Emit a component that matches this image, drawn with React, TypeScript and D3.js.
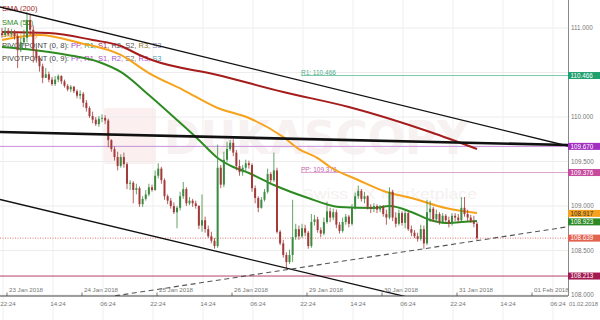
import React from 'react';
import * as d3 from 'd3';

const W = 600;
const H = 320;
const PLOT_R = 568;
const PLOT_B = 296;

// ---- axis data ----
const priceTicks = [111, 110.5, 110, 109.5, 109, 108.5, 108];
const dateTickHours = [0, 24, 48, 72, 96, 120, 144, 168];
const dateTickLabels = ['23 Jan 2018', '24 Jan 2018', '25 Jan 2018', '26 Jan 2018', '29 Jan 2018', '30 Jan 2018', '31 Jan 2018', '01 Feb 2018'];
const hourTickHours = [0, 16, 32, 48, 64, 80, 96, 112, 128, 144, 160, 176];
const hourTickLabels = ['22:24', '14:24', '06:24', '22:24', '14:24', '06:24', '22:24', '14:24', '06:24', '22:24', '14:24', '06:24'];
const lastDateLabel = '01.02.2018';

// ---- candles (hourly, USD/JPY) ----
const FIRST_CANDLE_T = -1.76;
const OPEN0 = 110.94;
const closes = [
  110.92, 110.97, 110.93, 110.96, 110.91, 110.75, 110.84, 110.89, 111.09, 110.98,
  110.75, 110.66, 110.57, 110.44, 110.48, 110.42, 110.37, 110.42, 110.46, 110.40,
  110.35, 110.31, 110.34, 110.29, 110.24, 110.26, 110.16, 110.10, 110.01, 109.97,
  109.92, 109.98, 109.99, 109.96, 109.74, 109.64, 109.55, 109.45, 109.55, 109.47,
  109.25, 109.26, 109.18, 109.20, 109.02, 109.08, 109.13, 109.21, 109.18, 109.34,
  109.42, 109.29, 109.11, 109.06, 109.00, 108.93, 108.98, 109.11, 109.19, 109.03,
  109.06, 109.03, 109.00, 108.78, 108.84, 108.74, 108.66, 108.61, 108.55, 109.43,
  109.24, 109.52, 109.64, 109.71, 109.60, 109.45, 109.38, 109.43, 109.48, 109.46,
  109.20, 109.09, 108.98, 109.07, 109.16, 109.36, 109.29, 109.40, 108.71, 108.58,
  108.45, 108.37, 108.45, 108.65, 108.74, 108.66, 108.75, 108.70, 108.55, 108.82,
  108.85, 108.73, 108.69, 108.82, 108.94, 108.87, 108.93, 108.79, 108.72, 108.82,
  108.88, 108.80, 108.98, 109.11, 109.17, 109.08, 109.11, 108.99, 108.97, 109.00,
  108.96, 108.99, 108.91, 108.87, 109.16, 108.87, 108.80, 108.92, 108.81, 108.92,
  108.74, 108.70, 108.66, 108.63, 108.74, 108.58, 108.93, 108.97, 108.85, 108.91,
  108.82, 108.89, 108.84, 108.80, 108.89, 108.87, 108.84, 108.98, 108.91, 108.87,
  108.83, 108.80, 108.64,
];
const highs = [
  111.00, 111.01, 111.00, 110.99, 110.98, 110.94, 110.89, 110.98, 111.18, 111.16,
  111.03, 110.78, 110.69, 110.60, 110.55, 110.51, 110.45, 110.46, 110.48, 110.47,
  110.42, 110.37, 110.36, 110.35, 110.31, 110.30, 110.28, 110.19, 110.12, 110.06,
  110.00, 110.01, 110.03, 110.02, 109.98, 109.75, 109.67, 109.61, 109.58, 109.60,
  109.49, 109.29, 109.28, 109.25, 109.22, 109.11, 109.18, 109.25, 109.24, 109.40,
  109.48, 109.44, 109.31, 109.13, 109.09, 109.04, 109.00, 109.16, 109.27, 109.21,
  109.10, 109.08, 109.06, 109.01, 109.13, 108.88, 108.78, 108.71, 108.64, 109.69,
  109.46, 109.61, 109.72, 109.74, 109.75, 109.63, 109.52, 109.46, 109.52, 109.51,
  109.48, 109.23, 109.11, 109.10, 109.19, 109.42, 109.38, 109.60, 109.43, 108.73,
  108.62, 108.48, 108.51, 109.07, 108.80, 108.78, 108.80, 108.79, 108.72, 108.91,
  108.90, 108.88, 108.76, 108.87, 109.05, 108.98, 108.97, 108.96, 108.82, 108.87,
  108.91, 108.90, 109.02, 109.15, 109.23, 109.19, 109.16, 109.12, 109.02, 109.03,
  109.02, 109.01, 109.01, 108.96, 109.21, 109.18, 108.93, 108.96, 108.94, 108.96,
  108.94, 108.78, 108.73, 108.70, 108.79, 108.78, 109.07, 109.06, 108.99, 108.96,
  108.93, 108.92, 108.91, 108.88, 108.92, 108.92, 108.91, 109.10, 109.10, 108.96,
  108.90, 108.89, 108.82,
];
const lows = [
  110.89, 110.90, 110.91, 110.90, 110.87, 110.55, 110.73, 110.80, 110.84, 110.92,
  110.61, 110.61, 110.51, 110.38, 110.44, 110.39, 110.35, 110.35, 110.39, 110.37,
  110.33, 110.29, 110.28, 110.27, 110.21, 110.20, 110.11, 110.06, 109.99, 109.93,
  109.90, 109.89, 109.94, 109.92, 109.66, 109.61, 109.51, 109.40, 109.43, 109.43,
  109.19, 109.18, 109.03, 109.13, 108.99, 108.99, 109.06, 109.11, 109.16, 109.17,
  109.31, 109.25, 109.07, 109.02, 108.97, 108.91, 108.75, 108.95, 109.08, 109.00,
  109.01, 108.99, 108.97, 108.74, 108.71, 108.70, 108.64, 108.58, 108.52, 108.53,
  109.20, 109.21, 109.49, 109.62, 109.56, 109.40, 109.34, 109.34, 109.39, 109.42,
  109.16, 109.03, 108.93, 108.97, 109.05, 109.14, 109.26, 109.27, 108.69, 108.56,
  108.42, 108.30, 108.35, 108.37, 108.62, 108.62, 108.64, 108.66, 108.52, 108.53,
  108.78, 108.70, 108.65, 108.67, 108.80, 108.82, 108.84, 108.75, 108.69, 108.70,
  108.79, 108.76, 108.78, 108.96, 109.08, 109.05, 109.03, 108.96, 108.92, 108.93,
  108.92, 108.93, 108.88, 108.79, 108.85, 108.83, 108.76, 108.78, 108.78, 108.75,
  108.72, 108.66, 108.64, 108.60, 108.61, 108.52, 108.56, 108.82, 108.82, 108.83,
  108.79, 108.80, 108.81, 108.76, 108.78, 108.83, 108.81, 108.82, 108.88, 108.83,
  108.81, 108.76, 108.61,
];

// ---- moving averages (sampled at candle index) ----
const sma200Idx = [0, 15, 29, 38, 44, 48, 69, 90, 111, 137, 152];
const sma200Val = [110.955, 110.944, 110.865, 110.798, 110.697, 110.640, 110.472, 110.281, 110.112, 109.831, 109.640];
const sma100Idx = [0, 12, 25, 38, 47, 58, 69, 79, 90, 95, 101, 105, 114, 123, 131, 142, 152];
const sma100Val = [110.865, 110.921, 110.832, 110.697, 110.494, 110.303, 110.101, 109.989, 109.775, 109.640, 109.539, 109.438, 109.292, 109.157, 109.090, 108.978, 108.921];
const sma55Idx = [0, 10, 21, 31, 38, 47, 56, 63, 69, 74, 79, 87, 98, 108, 119, 124, 131, 137, 142, 147, 152];
const sma55Val = [110.787, 110.753, 110.697, 110.618, 110.506, 110.247, 109.966, 109.742, 109.540, 109.438, 109.371, 109.236, 109.090, 108.989, 108.978, 109.000, 108.933, 108.843, 108.809, 108.820, 108.831];

// ---- drawn trend lines: [t1, p1, t2, p2] ----
const upperChannel = [-2.4, 111.236, 179.36, 109.674];
const lowerChannel = [-2.4, 109.073, 179.36, 107.545];
const thickLevel = [-2.4, 109.831, 179.36, 109.685];
const dashedTrend = [34.4, 107.99, 179.36, 108.767];

// ---- pivot / level lines ----
const R1 = 110.466;
const PP = 109.376;
const PIVOT_START_T = 93.9;
const levelPurple = 109.670;
const levelS = 108.213;
const lastPrice = 108.639;

const rightLabels = [
  { v: 110.466, text: '110.466', bg: '#21a06f', fg: '#fff' },
  { v: 109.670, text: '109.670', bg: '#a22fc2', fg: '#fff' },
  { v: 109.376, text: '109.376', bg: '#c64a9e', fg: '#fff' },
  { v: 108.917, text: '108.917', bg: '#f6a21e', fg: '#333' },
  { v: 108.923, text: '108.923', bg: '#2b8a26', fg: '#fff' },
  { v: 108.639, text: '108.639', bg: '#e3614f', fg: '#fff' },
  { v: 108.213, text: '108.213', bg: '#a31a52', fg: '#fff' },
];

const FONT = 'Liberation Sans, Arial, sans-serif';

export default function App() {
  const x = d3.scaleLinear().domain([-2.4, 179.36]).range([0, PLOT_R]);
  const y = d3.scaleLinear().domain([108, 111]).range([295, 28]);

  const candles = closes.map((c, i) => ({
    t: FIRST_CANDLE_T + i,
    o: i === 0 ? OPEN0 : closes[i - 1],
    c,
    h: highs[i],
    l: lows[i],
  }));

  const smaLine = d3
    .line<[number, number]>()
    .x((d) => x(FIRST_CANDLE_T + d[0]))
    .y((d) => y(d[1]))
    .curve(d3.curveMonotoneX);
  const mk = (idx: number[], val: number[]) => smaLine(idx.map((k, j) => [k, val[j]] as [number, number])) || '';

  const seg = (s: number[]) => ({ x1: x(s[0]), y1: y(s[1]), x2: x(s[2]), y2: y(s[3]) });

  // stacked right labels
  const BOX_H = 7;
  const placed: number[] = [];
  const boxes = rightLabels.map((r) => {
    let cy = y(r.v);
    let moved = true;
    while (moved) {
      moved = false;
      for (const p of placed) {
        if (Math.abs(p - cy) < BOX_H + 1.5) {
          cy = p + BOX_H + 1.5;
          moved = true;
        }
      }
    }
    placed.push(cy);
    return { ...r, cy };
  });
  // tick labels hidden behind a box are not drawn
  const visibleTicks = priceTicks.filter((p) => boxes.every((b) => Math.abs(b.cy - y(p)) > BOX_H));

  const xStartPivot = x(PIVOT_START_T);

  return (
    <svg width={W} height={H} style={{ display: 'block', position: 'absolute', left: 0, top: 0 }} fontFamily={FONT}>
      <defs>
        <clipPath id="plot">
          <rect x={0} y={0} width={PLOT_R} height={PLOT_B} />
        </clipPath>
      </defs>
      <rect x={0} y={0} width={W} height={H} fill="#fff" />

      {/* watermark */}
      <g>
        <rect x={104} y={108} width={52} height={56} rx={3} fill="#fbefef" />
        <text x={164} y={154} fontSize={46} fontWeight="bold" fill="#f7f1f1" fontFamily="DejaVu Sans, sans-serif"
          textLength={305} lengthAdjust="spacingAndGlyphs">
          DUKASCOPY
        </text>
        <text x={302} y={199} fontSize={15} fill="#f5f1f1" textLength={175} lengthAdjust="spacingAndGlyphs">
          Swiss FX Marketplace
        </text>
      </g>

      {/* grid */}
      {priceTicks.map((p) => (
        <line key={'hg' + p} x1={0} x2={PLOT_R} y1={y(p)} y2={y(p)} stroke="#ececec" strokeWidth={1} />
      ))}
      {hourTickHours.map((t) => (
        <line key={'vg' + t} x1={x(t) - 4.5} x2={x(t) - 4.5} y1={0} y2={H} stroke="#efefef" strokeWidth={1} />
      ))}

      {/* legend (under series) */}
      <g fontSize={7.5}>
        <text x={2} y={11} fill="#a51c1c">SMA (200)</text>
        <text x={2} y={24.5} fill="#2e8b22">SMA (55)</text>
        <text x={2} y={37} fill="#f0a020">SMA (100)</text>
        <text x={2} y={48}>
          <tspan fill="#444">PIVOTPOINT (0, 8): </tspan>
          <tspan fill="#a446c4">PP, </tspan>
          <tspan fill="#2f9a6c">R1, </tspan>
          <tspan fill="#a03050">S1, </tspan>
          <tspan fill="#555">R2, </tspan>
          <tspan fill="#555">S2, </tspan>
          <tspan fill="#8f7424">R3, </tspan>
          <tspan fill="#7a7fb0">S3</tspan>
        </text>
        <text x={2} y={61}>
          <tspan fill="#444">PIVOTPOINT (0, 9): </tspan>
          <tspan fill="#b04fd0">PP, </tspan>
          <tspan fill="#c244c4">R1, </tspan>
          <tspan fill="#b04fd0">S1, </tspan>
          <tspan fill="#9a5ad0">R2, </tspan>
          <tspan fill="#666">S2, </tspan>
          <tspan fill="#b04fd0">R3, </tspan>
          <tspan fill="#4fa0b8">S3</tspan>
        </text>
      </g>

      <g clipPath="url(#plot)">
        {/* level lines */}
        <line x1={0} x2={PLOT_R} y1={y(levelPurple)} y2={y(levelPurple)} stroke="#c790d8" strokeWidth={1} />
        <line x1={0} x2={PLOT_R} y1={y(levelS)} y2={y(levelS)} stroke="#b2456c" strokeWidth={1} />
        <line x1={xStartPivot} x2={PLOT_R} y1={y(R1)} y2={y(R1)} stroke="#7cc9a8" strokeWidth={1} />
        <line x1={xStartPivot} x2={PLOT_R} y1={y(PP)} y2={y(PP)} stroke="#dca6cf" strokeWidth={1} />
        <line x1={0} x2={PLOT_R} y1={y(lastPrice)} y2={y(lastPrice)} stroke="#e07a70" strokeWidth={1} strokeDasharray="1,1.5" />
        <text x={xStartPivot} y={y(R1) - 0.8} fontSize={6.5} fill="#4fae8a">R1: 110.466</text>
        <text x={xStartPivot} y={y(PP) - 0.8} fontSize={6.5} fill="#c45fae">PP: 109.376</text>

        {/* moving averages */}
        <path d={mk(sma200Idx, sma200Val)} fill="none" stroke="#a51c1c" strokeWidth={2} />
        <path d={mk(sma100Idx, sma100Val)} fill="none" stroke="#f7a21b" strokeWidth={2} />
        <path d={mk(sma55Idx, sma55Val)} fill="none" stroke="#2e8b22" strokeWidth={2} />

        {/* candles */}
        {candles.map((d, i) => {
          const up = d.c >= d.o;
          const col = up ? '#3d8b40' : '#a33a3a';
          const cx = x(d.t);
          const top = y(Math.max(d.o, d.c));
          const bot = y(Math.min(d.o, d.c));
          return (
            <g key={i}>
              <line x1={cx} x2={cx} y1={y(d.h)} y2={y(d.l)} stroke={col} strokeWidth={0.8} />
              <rect x={cx - 1} y={top} width={2} height={Math.max(0.8, bot - top)} fill={col} />
            </g>
          );
        })}

        {/* trend lines */}
        <line {...seg(upperChannel)} stroke="#111" strokeWidth={1.3} />
        <line {...seg(lowerChannel)} stroke="#111" strokeWidth={1.3} />
        <line {...seg(thickLevel)} stroke="#111" strokeWidth={2.6} />
        <line {...seg(dashedTrend)} stroke="#555" strokeWidth={1.1} strokeDasharray="5,3.5" />
      </g>

      {/* right axis */}
      <line x1={PLOT_R + 0.5} x2={PLOT_R + 0.5} y1={0} y2={PLOT_B} stroke="#8a8a8a" strokeWidth={1} />
      {visibleTicks.map((p) => (
        <text key={'pt' + p} x={PLOT_R + 3} y={y(p) + 2.2} fontSize={6.3} fill="#777">
          {d3.format('.3f')(p)}
        </text>
      ))}
      {boxes.map((b) => (
        <g key={'b' + b.text}>
          <rect x={PLOT_R} y={b.cy - BOX_H / 2} width={W - PLOT_R} height={BOX_H} fill={b.bg} />
          <text x={PLOT_R + 2.5} y={b.cy + 2.3} fontSize={6.3} fill={b.fg}>
            {b.text}
          </text>
        </g>
      ))}

      {/* bottom axis */}
      <line x1={0} x2={PLOT_R} y1={PLOT_B} y2={PLOT_B} stroke="#444" strokeWidth={1.2} />
      {dateTickHours.map((t, i) => (
        <g key={'dt' + t}>
          <line x1={x(t) - 0.5} x2={x(t) - 0.5} y1={PLOT_B - 3.5} y2={PLOT_B} stroke="#555" strokeWidth={0.8} />
          <text x={x(t) + 1.5} y={PLOT_B - 4.5} fontSize={6.2} fill="#777">
            {dateTickLabels[i]}
          </text>
        </g>
      ))}
      {hourTickHours.map((t, i) => (
        <text key={'ht' + t} x={x(t) + 0.5} y={306} fontSize={6.2} fill="#777" textAnchor="middle">
          {hourTickLabels[i]}
        </text>
      ))}
      <text x={598} y={306} fontSize={5.8} fill="#777" textAnchor="end">
        {lastDateLabel}
      </text>
    </svg>
  );
}
